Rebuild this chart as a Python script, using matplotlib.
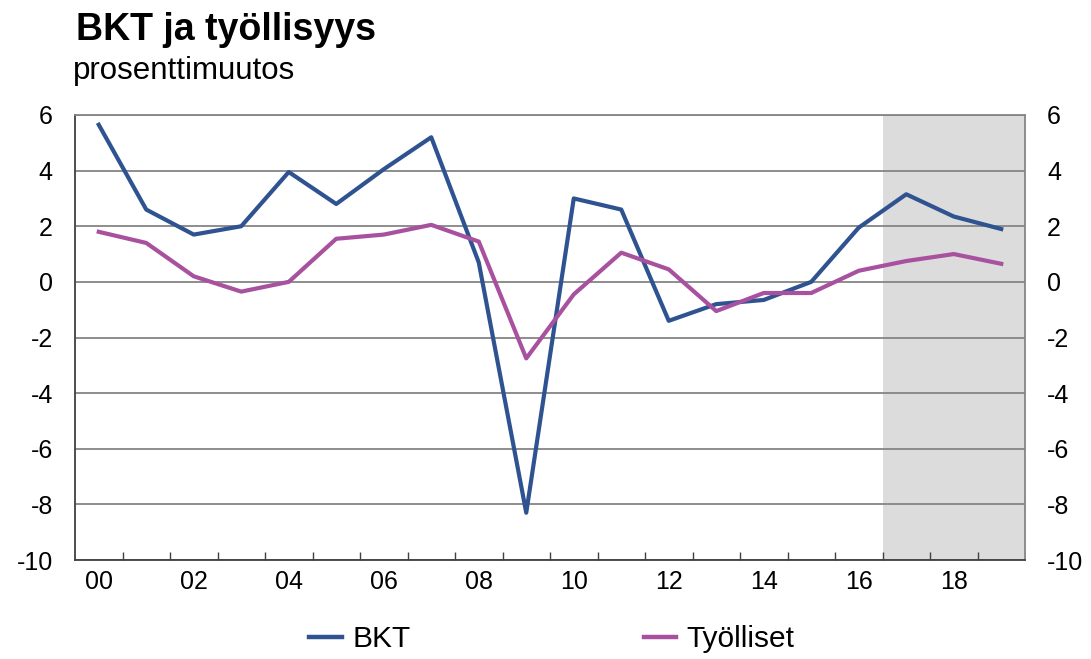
import matplotlib
matplotlib.use("Agg")
import matplotlib.pyplot as plt
import numpy as np
from matplotlib.lines import Line2D

plt.rcParams['font.family'] = ['Liberation Sans', 'DejaVu Sans']

years = list(range(2000, 2020))
bkt = [5.65, 2.6, 1.7, 2.0, 3.95, 2.8, 4.05, 5.2, 0.7, -8.3,
       3.0, 2.6, -1.4, -0.8, -0.65, 0.0, 1.95, 3.15, 2.35, 1.9]
tyolliset = [1.8, 1.4, 0.2, -0.35, 0.0, 1.55, 1.7, 2.05, 1.45, -2.75,
             -0.45, 1.05, 0.45, -1.05, -0.4, -0.4, 0.4, 0.75, 1.0, 0.65]
xtick_labels = ['00', '02', '04', '06', '08', '10', '12', '14', '16', '18']
yticks = [6, 4, 2, 0, -2, -4, -6, -8, -10]
forecast_start = 2017

c_bkt = '#2F5391'
c_ty = '#A8519F'

fig = plt.figure(figsize=(10.91, 6.59), dpi=100)
ax = fig.add_axes([75/1091, 1-560/659, (1025-75)/1091, (560-115)/659])

x = np.arange(len(years))
fi = years.index(forecast_start)
ax.axvspan(fi - 0.5, len(years) - 0.5, color='#DCDCDC', zorder=0, lw=0)

for yv in yticks:
    ax.axhline(yv, color='#858585', lw=1.3, zorder=1)

ax.plot(x, bkt, color=c_bkt, lw=3.0, zorder=3)
ax.plot(x, tyolliset, color=c_ty, lw=3.0, zorder=3)

ax.set_xlim(-0.5, len(years) - 0.5)
ax.set_ylim(-10, 6)

ax.set_yticks(yticks)
ax.set_yticklabels([str(v) for v in yticks])
ax.tick_params(axis='y', length=0, labelsize=18, pad=16, labelright=True, right=False)

ax.set_xticks(np.arange(0.5, len(years) - 0.5, 1), minor=False)
ax.set_xticklabels([])
ax.tick_params(axis='x', which='major', direction='in', length=6, color='#404040', width=1)
ax.set_xticks(np.arange(0, len(years), 2), minor=True)
ax.set_xticklabels(xtick_labels, minor=True)
ax.tick_params(axis='x', which='minor', length=0, labelsize=18, pad=7)

for s in ['left', 'bottom']:
    ax.spines[s].set_color('#404040')
    ax.spines[s].set_linewidth(1.3)
for s in ['top', 'right']:
    ax.spines[s].set_color('#858585')
    ax.spines[s].set_linewidth(1.3)

fig.text(76/1091, 1-40/659, 'BKT ja työllisyys', fontsize=27, fontweight='bold', va='baseline')
fig.text(73/1091, 1-79/659, 'prosenttimuutos', fontsize=22.5, va='baseline')

handles = [Line2D([], [], color=c_bkt, lw=3.2), Line2D([], [], color=c_ty, lw=3.2)]
fig.legend(handles, ['BKT', 'Työlliset'], loc='center', bbox_to_anchor=(552/1091, 1-639/659),
           ncol=2, frameon=False, fontsize=21.5, handlelength=1.1, columnspacing=7.8, handletextpad=0.35)

fig.savefig('out.png', dpi=100)
